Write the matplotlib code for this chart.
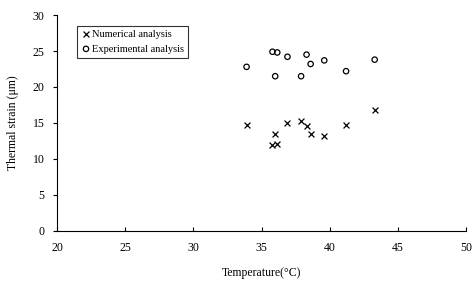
import matplotlib.pyplot as plt

plt.rcParams['font.family'] = ['Liberation Serif', 'DejaVu Serif']

# Temperature (°C) of each measurement
temperature = [33.9, 35.8, 36.15, 36.9, 38.3, 38.6, 39.6, 36.0, 37.9, 41.2, 43.3]

# Thermal strain values
experimental = [22.8, 24.9, 24.8, 24.2, 24.5, 23.2, 23.7, 21.5, 21.5, 22.2, 23.8]
numerical = [14.7, 11.9, 12.1, 15.0, 14.6, 13.5, 13.2, 13.4, 15.3, 14.7, 16.8]

fig = plt.figure(figsize=(4.76, 2.84), dpi=100)
ax = fig.add_axes([0.12, 0.187, 0.859, 0.76])

ax.scatter(temperature, numerical, marker='x', color='black', s=18, linewidths=0.9,
           label='Numerical analysis')
ax.scatter(temperature, experimental, marker='o', facecolors='none', edgecolors='black',
           s=15, linewidths=0.9, label='Experimental analysis')

ax.set_xlim(20, 50)
ax.set_ylim(0, 30)
ax.set_xticks(range(20, 51, 5))
ax.set_yticks(range(0, 31, 5))
ax.spines['top'].set_visible(False)
ax.spines['right'].set_visible(False)
ax.tick_params(axis='x', direction='in', length=3, labelsize=8.5, pad=8)
ax.tick_params(axis='y', direction='out', length=3, labelsize=8.5, pad=6)

ax.set_xlabel('Temperature(°C)', fontsize=8.5, labelpad=9)
ax.set_ylabel('Thermal strain (μm)', fontsize=8.5, labelpad=10)

leg = ax.legend(loc='upper left', bbox_to_anchor=(0.035, 0.975), fontsize=7.5,
                frameon=True, fancybox=False, edgecolor='black', handletextpad=0.1,
                handlelength=1.0, borderpad=0.4, labelspacing=0.5)
leg.get_frame().set_linewidth(0.8)

fig.savefig('out.png', dpi=100)
